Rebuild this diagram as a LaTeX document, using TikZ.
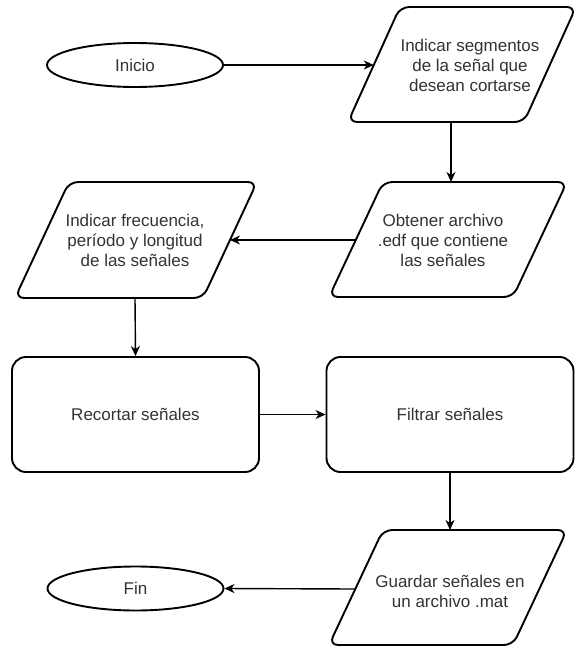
\documentclass[tikz,border=0pt]{standalone}
\usepackage{fontspec}
\setmainfont{Liberation Sans}
\usetikzlibrary{arrows.meta,shapes.geometric}
\definecolor{txt}{HTML}{333333}
\begin{document}
\begin{tikzpicture}[x=1pt,y=-1pt,
  every node/.style={font=\fontsize{17}{20}\selectfont, text=txt, align=center},
  term/.style={draw=black, line width=1.9pt, ellipse, minimum width=176pt, minimum height=44pt, inner sep=0pt},
  procbox/.style={draw=black, line width=1.9pt, rounded corners=14pt, minimum width=247pt, minimum height=115pt, inner sep=0pt},
  iobox/.style={draw=black, line width=1.9pt, rounded corners=9pt, line join=round},
  conn/.style={draw=black, line width=1.4pt, -{Stealth[length=10pt,width=9pt,inset=3pt]}}
]
\useasboundingbox (0,0) rectangle (576,648);
\fill[white] (0,0) rectangle (576,648);

% terminals
\node[term] (inicio) at (135,65) {Inicio};
\node[term] (fin) at (135.5,588.5) {Fin};

% parallelograms (drawn directly)
\draw[iobox] (400,7) -- (576,7) -- (524,122) -- (348,122) -- cycle;
\draw[iobox] (383,182) -- (567,182) -- (513,297) -- (329,297) -- cycle;
\draw[iobox] (69,182) -- (257,182) -- (203,298) -- (15,298) -- cycle;
\draw[iobox] (383,530) -- (567,530) -- (513,645) -- (329,645) -- cycle;

\node (p1) at (470,65) {Indicar segmentos\\de la señal que\\desean cortarse};
\node (p2) at (443,240) {Obtener archivo\\.edf que contiene\\las señales};
\node (p3) at (135,240) {Indicar frecuencia,\\período y longitud\\de las señales};
\node (p4) at (450,591) {Guardar señales en\\un archivo .mat};

% anchor points on parallelogram edges
\coordinate (p1w) at (373.8,65);
\coordinate (p1s) at (451,122);
\coordinate (p2n) at (451,182);
\coordinate (p2w) at (355.8,240);
\coordinate (p3e) at (230,240);
\coordinate (p3s) at (135,298);
\coordinate (p4n) at (450,530);
\coordinate (p4w) at (354.8,589);

% process boxes
\node[procbox] (recortar) at (135.5,414.5) {Recortar señales};
\node[procbox] (filtrar) at (450,414.5) {Filtrar señales};

% connectors
\draw[conn] (inicio.east) -- (p1w);
\draw[conn] (p1s) -- (p2n);
\draw[conn] (p2w) -- (p3e);
\draw[conn] (p3s) -- (recortar.north);
\draw[conn] (recortar.east) -- (filtrar.west);
\draw[conn] (filtrar.south) -- (p4n);
\draw[conn] (p4w) -- (fin.east);
\end{tikzpicture}
\end{document}
